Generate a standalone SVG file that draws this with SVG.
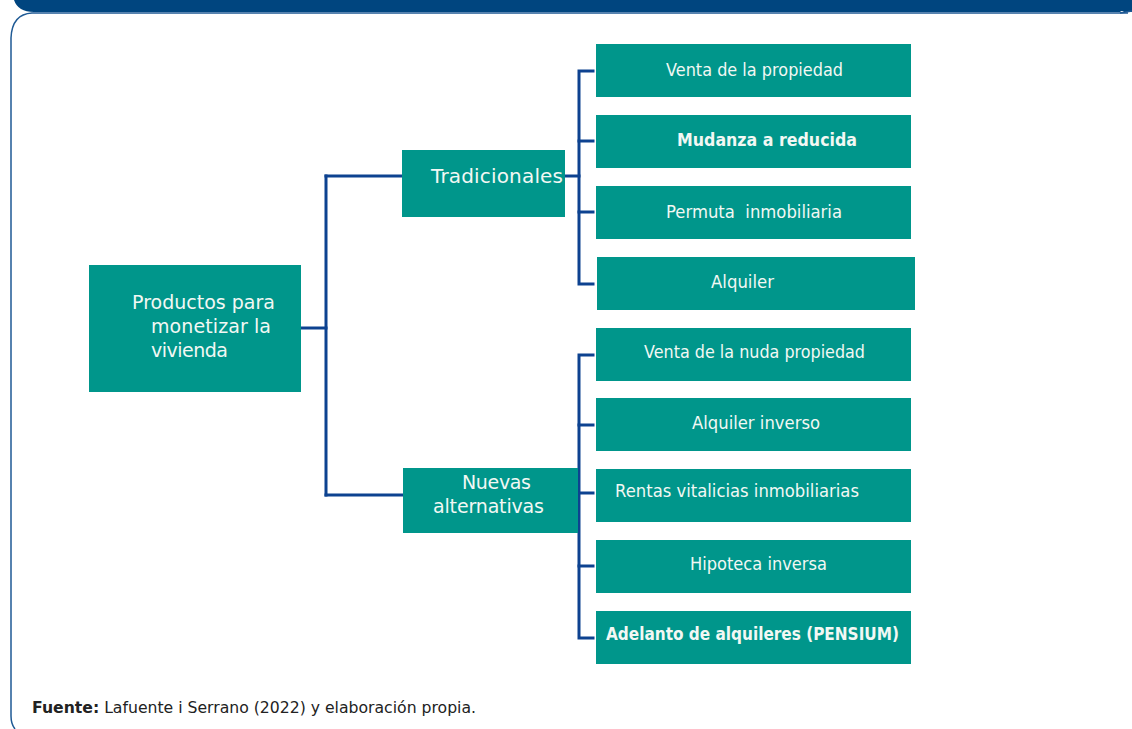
<svg xmlns="http://www.w3.org/2000/svg" width="1132" height="729" viewBox="0 0 1132 729">
<style>
.box{fill:#00968b}
.t{font-family:"DejaVu Sans",sans-serif;fill:#f2f8f4}
.leaf{font-size:17.5px}
.b{font-weight:bold}
.c{fill:none;stroke:#0d4290;stroke-width:3;stroke-linecap:square}
</style>
<rect width="1132" height="729" fill="#ffffff"/>
<path d="M 14 0 L 1132 0 L 1132 12 L 1124 12 Q 1122 10 1120 12 L 34 12 Q 18 12 14 0 Z" fill="#00457f"/>
<path d="M 1128 13 L 32 13 Q 12 14 11 38 L 11 716 Q 11 724 15 729" fill="none" stroke="#1f5a95" stroke-width="1.5"/>
<line x1="1120" y1="13" x2="1132" y2="11" stroke="#1f5a95" stroke-width="1.5"/>

<g id="connectors">
<line class="c" x1="301" y1="328" x2="326" y2="328" stroke-width="4"/>
<path class="c" d="M 326 176 L 326 495"/>
<path class="c" d="M 326 176 L 401 176"/>
<path class="c" d="M 326 495 L 402 495"/>
<path class="c" d="M 566 176 L 579 176"/>
<path class="c" d="M 593 71 L 579 71 L 579 284 L 593 284"/>
<path class="c" d="M 579 141 L 593 141"/>
<path class="c" d="M 579 212 L 593 212"/>
<path class="c" d="M 593 355 L 579 355 L 579 638 L 593 638"/>
<path class="c" d="M 579 425 L 593 425"/>
<path class="c" d="M 579 493 L 593 493"/>
<path class="c" d="M 579 566 L 593 566"/>
</g>

<g id="root">
<rect class="box" x="89" y="265" width="212" height="127"/>
<text class="t" font-size="19" x="132" y="309" textLength="143">Productos para</text>
<text class="t" font-size="19" x="151" y="333" textLength="120">monetizar la</text>
<text class="t" font-size="19" x="151" y="357" textLength="77">vivienda</text>
</g>

<g id="tradicionales">
<rect class="box" x="402" y="150" width="163" height="67"/>
<text class="t" font-size="20" x="431" y="183" textLength="132">Tradicionales</text>
</g>

<g id="nuevas">
<rect class="box" x="403" y="468" width="175" height="65"/>
<text class="t" font-size="19" x="462" y="489" textLength="69">Nuevas</text>
<text class="t" font-size="19" x="433" y="513" textLength="111">alternativas</text>
</g>

<g id="venta-propiedad">
<rect class="box" x="596" y="44" width="315" height="53"/>
<text class="t leaf" x="666" y="76" textLength="177" lengthAdjust="spacingAndGlyphs">Venta de la propiedad</text>
</g>
<g id="mudanza">
<rect class="box" x="596" y="115" width="315" height="53"/>
<text class="t leaf b" x="677" y="146" textLength="180" lengthAdjust="spacingAndGlyphs">Mudanza a reducida</text>
</g>
<g id="permuta">
<rect class="box" x="596" y="186" width="315" height="53"/>
<text class="t leaf" x="666" y="218" textLength="176" lengthAdjust="spacingAndGlyphs" xml:space="preserve">Permuta  inmobiliaria</text>
</g>
<g id="alquiler">
<rect class="box" x="597" y="257" width="318" height="53"/>
<text class="t leaf" x="711" y="288" textLength="63" lengthAdjust="spacingAndGlyphs">Alquiler</text>
</g>
<g id="venta-nuda">
<rect class="box" x="596" y="328" width="315" height="53"/>
<text class="t leaf" x="644" y="358" textLength="221" lengthAdjust="spacingAndGlyphs">Venta de la nuda propiedad</text>
</g>
<g id="alquiler-inverso">
<rect class="box" x="596" y="398" width="315" height="53"/>
<text class="t leaf" x="692" y="429" textLength="128" lengthAdjust="spacingAndGlyphs">Alquiler inverso</text>
</g>
<g id="rentas">
<rect class="box" x="596" y="469" width="315" height="53"/>
<text class="t leaf" x="615" y="497" textLength="244" lengthAdjust="spacingAndGlyphs">Rentas vitalicias inmobiliarias</text>
</g>
<g id="hipoteca">
<rect class="box" x="596" y="540" width="315" height="53"/>
<text class="t leaf" x="690" y="570" textLength="137" lengthAdjust="spacingAndGlyphs">Hipoteca inversa</text>
</g>
<g id="adelanto">
<rect class="box" x="596" y="611" width="315" height="53"/>
<text class="t leaf b" x="606" y="640" textLength="293" lengthAdjust="spacingAndGlyphs">Adelanto de alquileres (PENSIUM)</text>
</g>

<text x="32" y="713" font-family="'DejaVu Sans',sans-serif" font-size="16" fill="#222" textLength="444" lengthAdjust="spacingAndGlyphs"><tspan font-weight="bold">Fuente:</tspan> Lafuente i Serrano (2022) y elaboración propia.</text>
</svg>
